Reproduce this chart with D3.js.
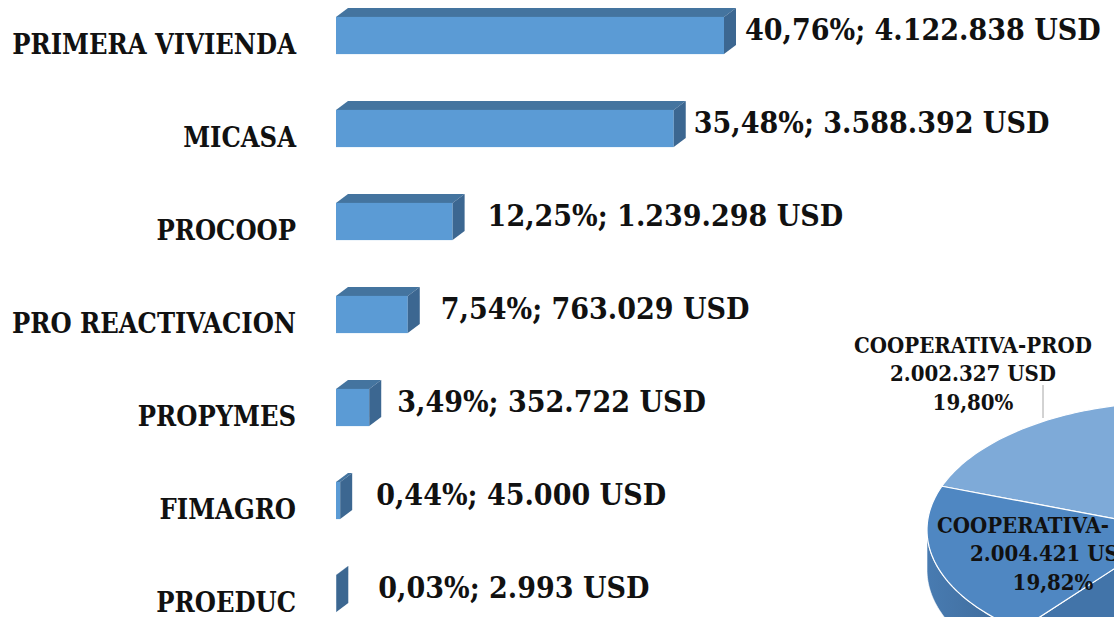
<!DOCTYPE html>
<html>
<head>
<meta charset="utf-8">
<script src="https://cdn.jsdelivr.net/npm/d3@7"></script>
<style>
  body { margin: 0; background: #fff; }
  svg { display: block; }
  text { font-family: "DejaVu Serif Condensed", "DejaVu Serif", serif; font-weight: bold; fill: #111; }
</style>
</head>
<body>
<svg width="1114" height="617"></svg>
<script>
// bar chart data
const categories = ['PRIMERA VIVIENDA', 'MICASA', 'PROCOOP', 'PRO REACTIVACION', 'PROPYMES', 'FIMAGRO', 'PROEDUC']
const percents = [40.76, 35.48, 12.25, 7.54, 3.49, 0.44, 0.03]
const amounts = [4122838, 3588392, 1239298, 763029, 352722, 45000, 2993]

// pie data (only two slices are readable, the rest lies outside the picture)
const pieNames = ['COOPERATIVA-PROD', '', 'COOPERATIVA-']
const piePercents = [19.80, 60.38, 19.82]
const pieAmounts = [2002327, 6107524, 2004421]

const svg = d3.select('svg')
const w = +svg.attr('width')
const h = +svg.attr('height')

const es = d3.formatLocale({decimal: ',', thousands: '.', grouping: [3], currency: ['', '']})
const fmtPct = es.format('.2f')
const fmtUsd = es.format(',d')

// ---- 3d bars ----
const depth = {x: 12, y: -9}
const labelNudge = [9, 8, 23, 21, 16, 24, 30]

const x = d3.scaleLinear()
  .domain([0, d3.max(percents)])
  .range([336, 724])

const y = d3.scaleBand()
  .domain(categories)
  .range([-11, 640])
  .paddingInner(0.6)
  .paddingOuter(0.3)

const bw = y.bandwidth()
const rows = categories.map((c, i) => ({c, p: percents[i], usd: amounts[i], i}))

const bars = svg.append('g').attr('class', 'bars')
  .selectAll('g').data(rows)
  .enter().append('g')

const poly = pts => 'M' + pts.map(p => p.join(',')).join('L') + 'Z'

bars.append('path')
  .attr('d', d => {
    const x0 = x(0), x1 = x(d.p), y0 = y(d.c)
    return poly([[x0, y0], [x1, y0], [x1 + depth.x, y0 + depth.y], [x0 + depth.x, y0 + depth.y]])
  })
  .attr('fill', '#44749f')

bars.append('rect')
  .attr('x', x(0))
  .attr('y', d => y(d.c))
  .attr('width', d => x(d.p) - x(0))
  .attr('height', bw)
  .attr('fill', '#5b9bd5')

bars.append('path')
  .attr('d', d => {
    const x1 = x(d.p), y0 = y(d.c)
    return poly([[x1, y0], [x1 + depth.x, y0 + depth.y], [x1 + depth.x, y0 + bw + depth.y], [x1, y0 + bw]])
  })
  .attr('fill', '#3c6791')

bars.append('text')
  .attr('x', d => x(d.p) + depth.x + labelNudge[d.i])
  .attr('y', d => y(d.c) + bw / 2 - 6)
  .attr('dy', '0.36em')
  .style('font-size', '30px')
  .text(d => `${fmtPct(d.p)}%; ${fmtUsd(d.usd)} USD`)

bars.append('text')
  .attr('x', 296)
  .attr('y', d => y(d.c) + bw / 2 + 9)
  .attr('dy', '0.36em')
  .attr('text-anchor', 'end')
  .style('font-size', '27px')
  .text(d => d.c)

// ---- 3d pie, mostly outside the frame ----
const P = {cx: 1174, cy: 530, rx: 247, ry: 128, h: 40}
const pieColors = ['#7eaad8', '#4274a9', '#4f87c2']
const start = 290 * Math.PI / 180

const pie = d3.pie().sort(null).value(d => d)
  .startAngle(start).endAngle(start + 2 * Math.PI)
const arcs = pie(piePercents).map((a, i) => ({...a, i}))

const pt = (t, dy = 0) => [P.cx + P.rx * Math.sin(t), P.cy - P.ry * Math.cos(t) + dy]
const steps = (a0, a1) => d3.range(0, 61).map(k => a0 + (a1 - a0) * k / 60)

const pieG = svg.append('g').attr('class', 'pie')

// side walls on the front half
const walls = []
arcs.forEach(a => {
  for (let k = -1; k <= 2; k++) {
    const lo = Math.max(a.startAngle, Math.PI / 2 + 2 * Math.PI * k)
    const hi = Math.min(a.endAngle, 3 * Math.PI / 2 + 2 * Math.PI * k)
    if (hi > lo) walls.push({lo, hi, i: a.i})
  }
})

const defs = svg.append('defs')
pieColors.forEach((c, i) => {
  const g = defs.append('linearGradient').attr('id', 'wall' + i)
    .attr('x1', 0).attr('x2', 1).attr('y1', 0).attr('y2', 0)
  g.append('stop').attr('offset', '0%').attr('stop-color', d3.color(c).darker(0.25))
  g.append('stop').attr('offset', '100%').attr('stop-color', d3.color(c).darker(0.7))
})

pieG.selectAll('path.wall').data(walls)
  .enter().append('path')
  .attr('class', 'wall')
  .attr('d', d => {
    const top = steps(d.lo, d.hi).map(t => pt(t))
    const bot = steps(d.hi, d.lo).map(t => pt(t, P.h))
    return poly(top.concat(bot))
  })
  .attr('fill', d => `url(#wall${d.i})`)
  .attr('stroke', '#fff')
  .attr('stroke-width', 0.6)

pieG.selectAll('path.top').data(arcs)
  .enter().append('path')
  .attr('class', 'top')
  .attr('d', a => poly([[P.cx, P.cy]].concat(steps(a.startAngle, a.endAngle).map(t => pt(t)))))
  .attr('fill', a => pieColors[a.i])
  .attr('stroke', '#fff')
  .attr('stroke-width', 1.2)
  .attr('stroke-linejoin', 'round')

// pie labels
const pieLabelPos = [{x: 973, y: 345, dx0: 0}, null, {x: 1053, y: 525, dx0: -30}]

pieG.append('line')
  .attr('x1', 1043).attr('y1', 385)
  .attr('x2', 1043).attr('y2', 418)
  .attr('stroke', '#a6a6a6')
  .attr('stroke-width', 1)

arcs.forEach(a => {
  const pos = pieLabelPos[a.i]
  if (!pos) return
  const lines = [pieNames[a.i], fmtUsd(pieAmounts[a.i]) + ' USD', fmtPct(piePercents[a.i]) + '%']
  const t = pieG.append('text')
    .attr('text-anchor', 'middle')
    .style('font-size', '22px')
  lines.forEach((s, k) => {
    t.append('tspan')
      .attr('x', pos.x + (k === 0 ? pos.dx0 : 0))
      .attr('y', pos.y + k * 28.5)
      .attr('dy', '0.36em')
      .text(s)
  })
})
</script>
</body>
</html>
